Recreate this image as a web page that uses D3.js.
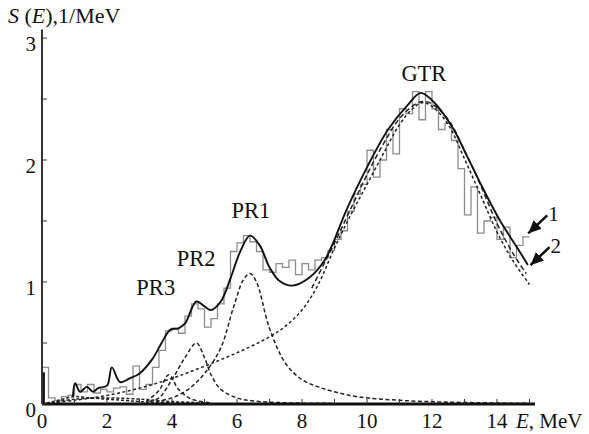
<!DOCTYPE html>
<html>
<head>
<meta charset="utf-8">
<script src="https://cdn.jsdelivr.net/npm/d3@7"></script>
<style>
  body { margin: 0; background: #fff; }
  text { font-family: "Liberation Serif", "DejaVu Serif", serif; fill: #111; }
</style>
</head>
<body>
<div id="vis1"></div>
<script>
// Histogram (0.2 MeV bins, left edges)
const HIST_E = [0.0,0.2,0.4,0.6,0.8,1.0,1.2,1.4,1.6,1.8,2.0,2.2,2.4,2.6,2.8,3.0,3.2,3.4,3.6,3.8,
                4.0,4.2,4.4,4.6,4.8,5.0,5.2,5.4,5.6,5.8,6.0,6.2,6.4,6.6,6.8,7.0,7.2,7.4,7.6,7.8,
                8.0,8.2,8.4,8.6,8.8,9.0,9.2,9.4,9.6,9.8,10.0,10.2,10.4,10.6,10.8,11.0,11.2,11.4,11.6,11.8,
                12.0,12.2,12.4,12.6,12.8,13.0,13.2,13.4,13.6,13.8,14.0,14.2,14.4,14.6,14.8,15.0];
const HIST_S = [0.30,0.05,0.03,0.06,0.07,0.16,0.10,0.16,0.09,0.12,0.10,0.13,0.14,0.08,0.31,0.12,0.16,0.30,0.44,0.60,
                0.62,0.58,0.72,0.82,0.78,0.63,0.70,0.82,0.95,1.25,1.32,1.38,1.33,1.25,1.10,1.08,1.15,1.12,1.18,1.06,
                1.15,1.10,1.18,1.20,1.26,1.35,1.42,1.58,1.72,1.80,2.08,1.86,2.00,2.25,2.05,2.42,2.38,2.56,2.33,2.56,
                2.42,2.25,2.30,2.16,1.93,1.55,1.78,1.40,1.50,1.53,1.35,1.45,1.20,1.30,1.37,1.37];

// Black spike at zero energy
const SPIKE_E = [0.05];
const SPIKE_S = [0.26];

// Curve 1: total fit (solid)
const TOTAL_E = [0.95,1.02,1.17,1.38,1.57,1.73,2.0,2.15,2.4,2.7,3.0,3.4,3.7,3.95,4.2,4.4,4.75,5.0,5.2,5.5,
                 5.8,6.1,6.4,6.7,7.0,7.3,7.7,8.2,8.7,9.4,10.0,10.65,11.25,11.65,12.0,12.6,13.1,13.6,14.1,14.6,14.95];
const TOTAL_S = [0.06,0.17,0.10,0.14,0.10,0.13,0.15,0.30,0.18,0.21,0.25,0.37,0.51,0.61,0.62,0.66,0.84,0.80,0.77,0.84,
                 1.03,1.25,1.38,1.30,1.12,1.01,0.97,1.03,1.18,1.61,1.94,2.25,2.45,2.55,2.49,2.28,2.02,1.75,1.50,1.29,1.14];

// Curve 2: second fit (dashed), GTR region
const FIT2_E = [8.3,9.0,9.5,10.0,10.5,11.0,11.5,11.75,12.0,12.5,13.0,13.5,14.0,14.5,14.9];
const FIT2_S = [0.95,1.32,1.60,1.88,2.13,2.34,2.46,2.48,2.46,2.33,2.08,1.79,1.48,1.23,1.07];

// Resonance components (dashed)
const GTR_E = [0.3,1,2,3,4,5,6,7,7.5,8,8.5,9,9.5,10,10.5,11,11.4,11.7,12,12.5,13,13.5,14,14.5,15.0];
const GTR_S = [0.01,0.03,0.07,0.13,0.21,0.31,0.42,0.55,0.64,0.77,0.98,1.28,1.55,1.80,2.05,2.29,2.42,2.47,2.44,2.29,2.01,1.71,1.41,1.17,0.98];

const PR1_E = [3.5,4.0,4.5,5.0,5.5,5.9,6.2,6.4,6.6,7.0,7.5,8.0,8.5,9.0,9.7,11.0,12.5,15.0];
const PR1_S = [0.02,0.05,0.12,0.25,0.46,0.80,1.02,1.07,1.00,0.62,0.33,0.20,0.14,0.10,0.06,0.03,0.015,0.005];

const PR2_E = [3.3,3.6,4.0,4.4,4.75,5.0,5.2,5.5,6.0,6.5,7.5,9.0];
const PR2_S = [0.02,0.05,0.20,0.38,0.50,0.38,0.24,0.12,0.05,0.025,0.01,0.005];

const PR3_E = [3.2,3.6,3.9,4.2,4.6,5.2];
const PR3_S = [0.02,0.11,0.24,0.12,0.04,0.01];

const LOW1_E = [0.0,0.5,1.0,1.5,2.0,2.5,3.0,4.0,5.0];
const LOW1_S = [0.0,0.03,0.06,0.05,0.04,0.03,0.02,0.01,0.005];
const LOW2_E = [0.3,1.0,2.0,3.0,4.0,5.0];
const LOW2_S = [0.01,0.04,0.05,0.04,0.02,0.01];

// Ticks and labels
const X_TICKS = d3.range(0, 16, 1);
const X_LABELS = [0, 2, 4, 6, 8, 10, 12, 14];
const Y_TICKS = d3.range(0, 3.01, 0.5);
const Y_LABELS = [0, 1, 2, 3];
const PEAK_NAMES = ["GTR", "PR1", "PR2", "PR3"];
const PEAK_E = [11.75, 6.43, 4.74, 3.5];
const PEAK_S = [2.71, 1.59, 1.20, 0.96];

const FRAME_WIDTH = 589;
const FRAME_HEIGHT = 434;

const FRAME1 = d3.select("#vis1")
                 .append("svg")
                 .attr("width", FRAME_WIDTH)
                 .attr("height", FRAME_HEIGHT);

const X_SCALE = d3.scaleLinear().domain([0, 15]).range([42, 529.5]);
const Y_SCALE = d3.scaleLinear().domain([0, 3]).range([404, 38]);

const zip = (es, ss) => es.map((e, i) => [e, ss[i]]);
const smooth = d3.line()
                 .x(d => X_SCALE(d[0]))
                 .y(d => Y_SCALE(d[1]))
                 .curve(d3.curveCatmullRom.alpha(0.5));

// Histogram
const histLine = d3.line()
                   .x(d => X_SCALE(d[0]))
                   .y(d => Y_SCALE(d[1]))
                   .curve(d3.curveStepAfter);
FRAME1.append("path")
      .attr("d", histLine([[0, 0]].concat(zip(HIST_E, HIST_S))))
      .attr("fill", "none")
      .attr("stroke", "#8c8c8c")
      .attr("stroke-width", 1.3);

FRAME1.selectAll(".spike")
      .data(zip(SPIKE_E, SPIKE_S))
      .enter().append("line")
      .attr("x1", d => X_SCALE(d[0])).attr("x2", d => X_SCALE(d[0]))
      .attr("y1", Y_SCALE(0)).attr("y2", d => Y_SCALE(d[1]))
      .attr("stroke", "#111").attr("stroke-width", 2.5);

// Dashed components
const dashed = [
  [LOW1_E, LOW1_S, "3,2"], [LOW2_E, LOW2_S, "3,2"],
  [PR3_E, PR3_S, "4,2.5"], [PR2_E, PR2_S, "4,2.5"], [PR1_E, PR1_S, "4,2.5"],
  [GTR_E, GTR_S, "3,2.5"], [FIT2_E, FIT2_S, "5,3"]
];
dashed.forEach(c => {
  FRAME1.append("path")
        .attr("d", smooth(zip(c[0], c[1])))
        .attr("fill", "none")
        .attr("stroke", "#222")
        .attr("stroke-width", 1.5)
        .attr("stroke-dasharray", c[2]);
});

// Total fit
FRAME1.append("path")
      .attr("d", smooth(zip(TOTAL_E, TOTAL_S)))
      .attr("fill", "none")
      .attr("stroke", "#111")
      .attr("stroke-width", 1.9);

// Axes
FRAME1.append("line")
      .attr("x1", X_SCALE(0)).attr("x2", X_SCALE(15.17))
      .attr("y1", Y_SCALE(0)).attr("y2", Y_SCALE(0))
      .attr("stroke", "#111").attr("stroke-width", 3);
FRAME1.append("line")
      .attr("x1", X_SCALE(0)).attr("x2", X_SCALE(0))
      .attr("y1", Y_SCALE(0)).attr("y2", Y_SCALE(3.07))
      .attr("stroke", "#333").attr("stroke-width", 2);

FRAME1.selectAll(".xtick")
      .data(X_TICKS).enter().append("line")
      .attr("x1", d => X_SCALE(d)).attr("x2", d => X_SCALE(d))
      .attr("y1", Y_SCALE(0)).attr("y2", Y_SCALE(0) - 5)
      .attr("stroke", "#333").attr("stroke-width", 1);
FRAME1.selectAll(".ytick")
      .data(Y_TICKS).enter().append("line")
      .attr("x1", X_SCALE(0)).attr("x2", X_SCALE(0) + 5)
      .attr("y1", d => Y_SCALE(d)).attr("y2", d => Y_SCALE(d))
      .attr("stroke", "#333").attr("stroke-width", 1);

FRAME1.selectAll(".xlab")
      .data(X_LABELS).enter().append("text")
      .attr("x", d => X_SCALE(d)).attr("y", 428)
      .attr("text-anchor", "middle")
      .attr("font-size", "21px")
      .text(d => d);
FRAME1.selectAll(".ylab")
      .data(Y_LABELS).enter().append("text")
      .attr("x", 36).attr("y", d => Y_SCALE(d) + 13)
      .attr("text-anchor", "end")
      .attr("font-size", "21px")
      .text(d => d);

// Axis titles
const yTitle = FRAME1.append("text").attr("x", 8).attr("y", 23).attr("font-size", "22px");
yTitle.append("tspan").attr("font-style", "italic").text("S");
yTitle.append("tspan").text(" (");
yTitle.append("tspan").attr("font-style", "italic").text("E");
yTitle.append("tspan").text("),1/MeV");

const xTitle = FRAME1.append("text").attr("x", 516).attr("y", 428).attr("font-size", "21px");
xTitle.append("tspan").attr("font-style", "italic").text("E");
xTitle.append("tspan").text(", MeV");

// Peak names
FRAME1.selectAll(".peak")
      .data(PEAK_NAMES).enter().append("text")
      .attr("x", (d, i) => X_SCALE(PEAK_E[i]))
      .attr("y", (d, i) => Y_SCALE(PEAK_S[i]) + 8)
      .attr("text-anchor", "middle")
      .attr("font-size", "22.5px")
      .text(d => d);

// Arrows "1" (histogram) and "2" (total fit)
FRAME1.append("defs").append("marker")
      .attr("id", "arr").attr("viewBox", "0 0 10 10")
      .attr("refX", 10).attr("refY", 5)
      .attr("markerWidth", 5).attr("markerHeight", 5)
      .attr("orient", "auto")
      .append("path").attr("d", "M0,0.5 L10,5 L0,9.5 z").attr("fill", "#111");

const arrowTips = [
  [HIST_E[HIST_E.length - 1] - 0.07, HIST_S[HIST_S.length - 1] + 0.02, "1"],
  [TOTAL_E[TOTAL_E.length - 1] + 0.05, TOTAL_S[TOTAL_S.length - 1] - 0.01, "2"]
];
arrowTips.forEach(a => {
  const tx = X_SCALE(a[0]), ty = Y_SCALE(a[1]);
  FRAME1.append("line")
        .attr("x1", tx + 20).attr("y1", ty - 19)
        .attr("x2", tx + 1).attr("y2", ty - 1)
        .attr("stroke", "#111").attr("stroke-width", 2.6)
        .attr("marker-end", "url(#arr)");
  FRAME1.append("text")
        .attr("x", tx + 21).attr("y", ty - 13)
        .attr("font-size", "21px")
        .text(a[2]);
});
</script>
</body>
</html>
